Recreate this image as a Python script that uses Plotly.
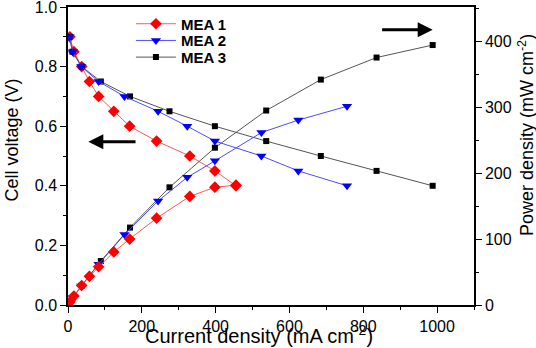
import plotly.graph_objects as go

# Data
mea1_current = [5, 16, 37, 58, 83, 124, 167, 240, 330, 398, 455]
mea1_voltage = [0.90, 0.85, 0.80, 0.75, 0.70, 0.65, 0.60, 0.55, 0.50, 0.45, 0.40]
mea1_power = [4.5, 13.6, 29.6, 43.5, 58.1, 80.6, 100.2, 132, 165, 179, 182]

mea2_current = [4, 13, 36, 83, 153, 244, 323, 398, 524, 624, 756]
mea2_voltage = [0.90, 0.85, 0.80, 0.75, 0.70, 0.65, 0.60, 0.55, 0.50, 0.45, 0.40]
mea2_power = [3.6, 11, 29, 62, 107, 158, 194, 219, 262, 281, 302]

mea3_current = [4, 12, 37, 89, 168, 275, 398, 537, 685, 836, 988]
mea3_voltage = [0.90, 0.85, 0.80, 0.75, 0.70, 0.65, 0.60, 0.55, 0.50, 0.45, 0.40]
mea3_power = [3.6, 10.2, 29.6, 66.8, 117.6, 178.8, 239, 295.5, 342.5, 376, 395]

series_names = ["MEA 1", "MEA 2", "MEA 3"]
x_ticks = [0, 200, 400, 600, 800, 1000]
y_ticks = [0, 0.2, 0.4, 0.6, 0.8, 1.0]
y2_ticks = [0, 100, 200, 300, 400]

colors = ["#ff0000", "#0000ff", "#000000"]
line_colors = ["#ff5a5a", "#4d4dff", "#555555"]
symbols = ["diamond", "triangle-down", "square"]
sizes = [9, 9, 6]
legend_ids = ["legend", "legend2", "legend3"]

FONT = "Arial, Liberation Sans, sans-serif"

fig = go.Figure()

currents = [mea1_current, mea2_current, mea3_current]
voltages = [mea1_voltage, mea2_voltage, mea3_voltage]
powers = [mea1_power, mea2_power, mea3_power]

# power curves (right axis)
for i in [2, 1, 0]:
    fig.add_trace(go.Scatter(
        x=currents[i], y=powers[i], yaxis="y2", mode="lines+markers",
        line=dict(color=line_colors[i], width=1),
        marker=dict(symbol=symbols[i], size=sizes[i], color=colors[i]),
        showlegend=False, name=series_names[i]))

# voltage curves (left axis)
for i in [0, 2, 1]:
    fig.add_trace(go.Scatter(
        x=currents[i], y=voltages[i], mode="lines+markers",
        line=dict(color=line_colors[i], width=1),
        marker=dict(symbol=symbols[i], size=sizes[i], color=colors[i]),
        showlegend=True, name=series_names[i], legend=legend_ids[i]))

axis_common = dict(
    showline=True, linecolor="black", linewidth=1.5,
    ticks="outside", ticklen=6, tickwidth=1.2, tickcolor="black",
    showgrid=False, zeroline=False, automargin=False,
    ticklabeloverflow="allow",
    tickfont=dict(family=FONT, size=16, color="black"),
)

legend_common = dict(
    xanchor="left", yanchor="middle", bgcolor="rgba(0,0,0,0)",
    itemwidth=40,
    font=dict(family=FONT, size=15, color="black", weight="bold"),
)
legend_x = 0.155
legend_ys = [0.943, 0.887, 0.831]

fig.update_layout(
    width=536, height=348,
    margin=dict(l=68, r=62, t=7, b=43),
    paper_bgcolor="white", plot_bgcolor="white",
    font=dict(family=FONT, color="black"),
    xaxis=dict(
        range=[0, 1100], tickvals=x_ticks, mirror=True,
        minor=dict(ticks="outside", ticklen=3, dtick=100, tickcolor="black"),
        **axis_common),
    yaxis=dict(
        range=[0, 1.0], tickvals=y_ticks, tickformat=".1f",
        minor=dict(ticks="outside", ticklen=3, dtick=0.1, tickcolor="black"),
        **axis_common),
    yaxis2=dict(
        range=[0, 452.8], tickvals=y2_ticks, overlaying="y", side="right",
        minor=dict(ticks="outside", ticklen=3, dtick=50, tickcolor="black"),
        **axis_common),
    legend=dict(x=legend_x, y=legend_ys[0], **legend_common),
    legend2=dict(x=legend_x, y=legend_ys[1], **legend_common),
    legend3=dict(x=legend_x, y=legend_ys[2], **legend_common),
    annotations=[
        dict(x=55, y=0.5475, ax=187, ay=0.5475, xref="x", yref="y", axref="x", ayref="y",
             showarrow=True, arrowhead=2, arrowsize=1, arrowwidth=3, arrowcolor="black", text=""),
        dict(x=988, y=0.924, ax=847, ay=0.924, xref="x", yref="y", axref="x", ayref="y",
             showarrow=True, arrowhead=2, arrowsize=1, arrowwidth=3, arrowcolor="black", text=""),
        dict(text="Cell voltage (V)", textangle=-90, showarrow=False,
             xref="paper", yref="paper", x=-0.138, y=0.555, xanchor="center", yanchor="middle",
             font=dict(family=FONT, size=18, color="black")),
        dict(text="Power density (mW cm<sup>-2</sup>)", textangle=-90, showarrow=False,
             xref="paper", yref="paper", x=1.128, y=0.57, xanchor="center", yanchor="middle",
             font=dict(family=FONT, size=18, color="black")),
        dict(text="Current density (mA cm<sup>-2</sup>)", showarrow=False,
             xref="paper", yref="paper", x=0.470, y=-0.1, xanchor="center", yanchor="middle",
             font=dict(family=FONT, size=20, color="black")),
    ],
)

fig.write_html("out.html", config={"displayModeBar": False},
               post_script="document.body.style.margin='0px';")
